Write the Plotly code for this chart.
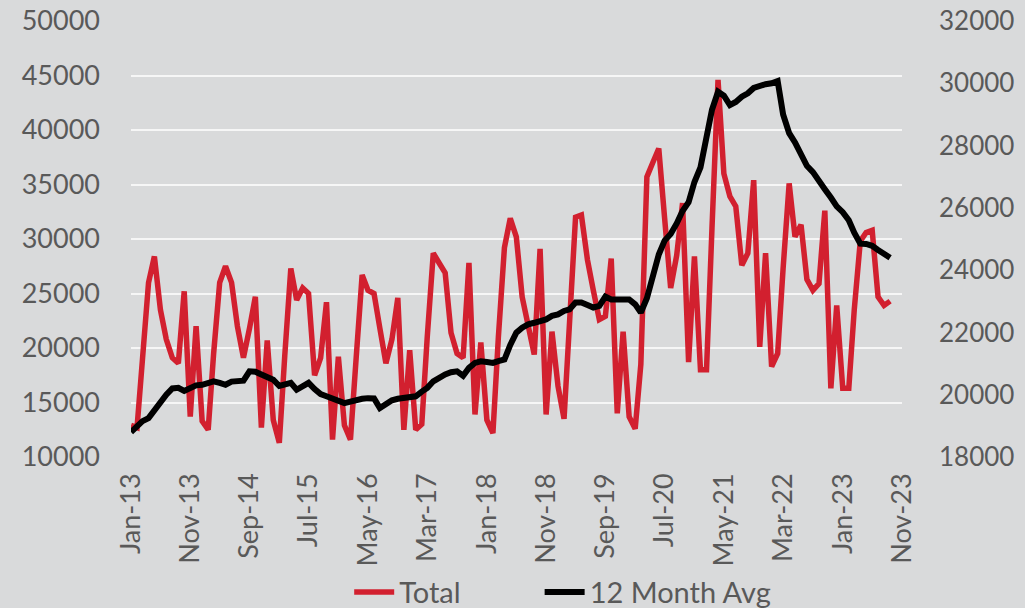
import pandas as pd
import plotly.graph_objects as go

# Monthly categories Jan-13 .. Sep-23
months = pd.date_range("2013-01-01", "2023-09-01", freq="MS")

total = [
    12900, 12700, 19000, 26000, 28400, 23500, 20800, 19100, 18600, 25200,
    13700, 22000, 13300, 12500, 19500, 26000, 27500, 26000, 22000, 19100,
    21800, 24700, 12700, 20700, 13400, 11300, 19300, 27300, 24400, 25500,
    25000, 17500, 19100, 24200, 11600, 19200, 12900, 11600, 19000, 26700,
    25300, 25000, 21800, 18600, 20800, 24600, 12500, 19800, 12500, 13000,
    21000, 28700, 27800, 26900, 21400, 19500, 19100, 27800, 13900, 20500,
    13400, 12200, 21000, 29200, 31900, 30200, 24700, 22000, 19400, 29100,
    13900, 21500, 16500, 13500, 23000, 32000, 32200, 28100, 25300, 22600,
    22900, 28200, 14000, 21500, 13700, 12600, 18500, 35700, 37000, 38300,
    31900, 25500, 28500, 33300, 18700, 28400, 18000, 18000, 31000, 44600,
    36000, 33900, 33000, 27600, 28700, 35400, 20100, 28700, 18300, 19500,
    27300, 35100, 30200, 31300, 26300, 25300, 25900, 32600, 16300, 23900,
    16300, 16300, 23500, 29800, 30600, 30800, 24700, 23900, 24300,
]

avg12 = [
    18800, 19000, 19150, 19250, 19520, 19730, 20000, 20200, 20220, 20120,
    20200, 20300, 20320, 20380, 20430, 20380, 20320, 20420, 20430, 20450,
    20750, 20740, 20650, 20550, 20480, 20280, 20330, 20380, 20160, 20280,
    20380, 20180, 20020, 19950, 19880, 19780, 19730, 19780, 19840, 19870,
    19890, 19880, 19570, 19700, 19820, 19870, 19900, 19950, 19950, 20100,
    20220, 20430, 20550, 20650, 20720, 20750, 20610, 20860, 21020, 21070,
    21050, 21020, 21080, 21130, 21600, 21990, 22150, 22260, 22310, 22350,
    22420, 22530, 22580, 22690, 22740, 22960, 22960, 22880, 22800, 22850,
    23150, 23060, 23060, 23100, 23060, 22900, 22640, 23100, 23750, 24500,
    24950, 25160, 25500, 25900, 26180, 26830, 27300, 28200, 29150, 29730,
    29600, 29300, 29400, 29570, 29680, 29850, 29930, 29970, 30000, 30070,
    29000, 28400, 28100, 27700, 27350, 27150, 26900, 26600, 26330, 26050,
    25860, 25600, 25200, 24850, 24840, 24780, 24650, 24530, 24400,
]

tick_dates = ["2013-01-01", "2013-11-01", "2014-09-01", "2015-07-01", "2016-05-01",
              "2017-03-01", "2018-01-01", "2018-11-01", "2019-09-01", "2020-07-01",
              "2021-05-01", "2022-03-01", "2023-01-01", "2023-11-01"]
tick_labels = ["Jan-13", "Nov-13", "Sep-14", "Jul-15", "May-16", "Mar-17", "Jan-18",
               "Nov-18", "Sep-19", "Jul-20", "May-21", "Mar-22", "Jan-23", "Nov-23"]

FONT = "Lato"
TXT = "#595959"

fig = go.Figure()
fig.add_trace(go.Scatter(x=months, y=total, name="Total", mode="lines",
                         line=dict(color="#D2202F", width=5.5), legend="legend"))
fig.add_trace(go.Scatter(x=months, y=avg12, name="12 Month Avg", mode="lines",
                         line=dict(color="#000000", width=6), yaxis="y2",
                         legend="legend2"))

leg_common = dict(orientation="h", yanchor="middle", y=-0.31,
                  font=dict(size=29, color=TXT), bgcolor="rgba(0,0,0,0)",
                  itemwidth=40, xanchor="left")

fig.update_layout(
    width=1025, height=608,
    margin=dict(l=131, r=123, t=21, b=151, autoexpand=False),
    paper_bgcolor="#d9dadb",
    plot_bgcolor="rgba(0,0,0,0)",
    font=dict(family=FONT, size=27, color=TXT),
    showlegend=True,
    legend=dict(x=0.283, **leg_common),
    legend2=dict(x=0.530, **leg_common),
    xaxis=dict(type="date", range=["2013-01-01", "2023-11-01"],
               tickvals=tick_dates, ticktext=tick_labels, tickangle=-90,
               showgrid=False, zeroline=False, showline=False,
               ticks="", ticklabelstandoff=10,
               tickfont=dict(family=FONT, size=27, color=TXT)),
    yaxis=dict(range=[10000, 50000], dtick=5000, tickformat="d",
               showgrid=True, gridcolor="rgba(255,255,255,0.75)", gridwidth=1.5,
               zeroline=False, showline=False, ticks="", ticklabelstandoff=30,
               tickfont=dict(family=FONT, size=27, color=TXT)),
    yaxis2=dict(range=[18000, 32000], dtick=2000, tickformat="d", overlaying="y",
                side="right", showgrid=False, zeroline=False, showline=False,
                ticks="", ticklabelstandoff=36,
                tickfont=dict(family=FONT, size=26, color=TXT)),
)

fig.write_html("out.html", config={"displayModeBar": False},
               post_script="document.body.style.margin='0';document.body.style.overflow='hidden';")
